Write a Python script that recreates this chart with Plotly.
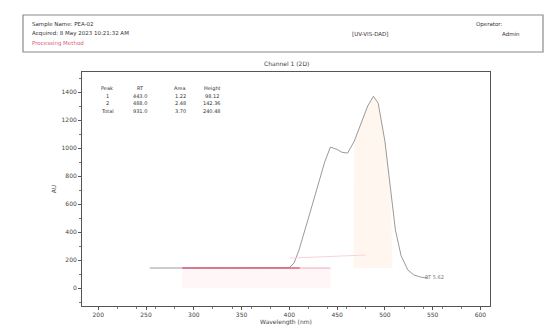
import plotly.graph_objects as go

# ---- data ----
wavelength = [254, 300, 350, 400, 405, 410, 420, 430, 437, 443, 450, 455, 461, 468, 475, 482, 488, 493, 500, 506, 511, 517, 524, 530, 537, 545]
signal = [143, 143, 142, 145, 180, 270, 500, 730, 900, 1007, 990, 970, 964, 1050, 1180, 1300, 1370, 1320, 1050, 679, 414, 230, 129, 95, 79, 70]

baseline_x = [288, 411]
baseline_y = [143, 143]
baseline2_x = [411, 443]
baseline2_y = [143, 143]
peak_start, peak_end = 467, 508
baseline_level = 143

x_ticks = [200, 250, 300, 350, 400, 450, 500, 550, 600]
y_ticks = [0, 200, 400, 600, 800, 1000, 1200, 1400]

table_header = ["Peak", "RT", "Area", "Height"]
table_rows = [["1", "443.0", "1.22", "98.12"],
              ["2", "488.0", "2.48", "142.36"],
              ["Total", "931.0", "3.70", "240.48"]]

W, H = 553, 334
ML, MR, MT, MB = 82, 63, 72, 28

fig = go.Figure()

# light pink fill under the baseline region
fig.add_trace(go.Scatter(x=[baseline_x[0], baseline2_x[1], baseline2_x[1], baseline_x[0]],
                         y=[baseline_level, baseline_level, 0, 0],
                         fill="toself", fillcolor="rgba(255,228,236,0.35)",
                         line=dict(width=0), mode="lines", hoverinfo="skip"))

# orange shaded peak area
px = [x for x in wavelength if peak_start <= x <= peak_end]
py = [y for x, y in zip(wavelength, signal) if peak_start <= x <= peak_end]
fig.add_trace(go.Scatter(x=[peak_start] + px + [peak_end, peak_end, peak_start],
                         y=[baseline_level] + py + [baseline_level, baseline_level, baseline_level],
                         fill="toself", fillcolor="rgba(255,222,190,0.25)",
                         line=dict(width=0), mode="lines", hoverinfo="skip"))

# main curve
fig.add_trace(go.Scatter(x=wavelength, y=signal, mode="lines",
                         line=dict(color="#9a9a9a", width=1)))

# baselines
fig.add_trace(go.Scatter(x=baseline_x, y=baseline_y, mode="lines",
                         line=dict(color="#d9607e", width=1.5)))
fig.add_trace(go.Scatter(x=baseline2_x, y=baseline2_y, mode="lines",
                         line=dict(color="#f0a8b8", width=1)))
fig.add_trace(go.Scatter(x=[400, 480], y=[214, 236], mode="lines",
                         line=dict(color="#f7d4dc", width=1)))

axis_common = dict(showline=True, linecolor="#555", linewidth=1, mirror=True,
                   ticks="outside", ticklen=3, tickcolor="#555", showgrid=False,
                   zeroline=False, tickfont=dict(size=6, color="#444", family="DejaVu Sans"),
                   minor=dict(ticks="outside", ticklen=2, tickcolor="#777"))

fig.update_xaxes(range=[183, 610], tickvals=x_ticks,
                 title=dict(text="Wavelength (nm)", font=dict(size=6, color="#444", family="DejaVu Sans"), standoff=2),
                 **axis_common)
fig.update_yaxes(range=[-128, 1543], tickvals=y_ticks,
                 title=dict(text="AU", font=dict(size=6, color="#444", family="DejaVu Sans"), standoff=4),
                 **axis_common)


def pxx(p):
    return (p - ML) / (W - ML - MR)


def pxy(p):
    return (H - MB - p) / (H - MT - MB)


fig.update_layout(
    template="none",
    width=W, height=H,
    margin=dict(l=ML, r=MR, t=MT, b=MB),
    paper_bgcolor="white", plot_bgcolor="white",
    showlegend=False,
)

fig.add_annotation(x=0.5, y=1.0, xref="paper", yref="paper", yanchor="bottom", text="Channel 1 (2D)",
                   showarrow=False, font=dict(size=6, color="#444", family="DejaVu Sans"), yshift=3)
fig.add_annotation(x=540, y=79, xref="x", yref="y", text="RT 5.62", showarrow=False, xanchor="left",
                   font=dict(size=5, color="#777", family="DejaVu Sans"))

# peak table
col_px = [107, 140, 180, 212]
row_px = [88, 96, 103, 111]
rows = [table_header] + table_rows
for r, row in enumerate(rows):
    for c, val in enumerate(row):
        fig.add_annotation(x=pxx(col_px[c]), y=pxy(row_px[r]), xref="paper", yref="paper", text=val,
                           showarrow=False, xanchor="center", yanchor="middle",
                           font=dict(size=5, color="#333", family="DejaVu Sans"))

# header box texts (pixel positions)
hdr = [
    (30, 24, "Sample Name: PEA-02", "#333", "left"),
    (30, 34, "Acquired: 8 May 2023 10:21:32 AM", "#333", "left"),
    (30, 43, "Processing Method", "#d9607e", "left"),
    (350, 34, "[UV-VIS-DAD]", "#333", "left"),
    (505, 24, "Operator:", "#333", "right"),
    (522, 34, "Admin", "#333", "right"),
]
for x, y, t, col, anc in hdr:
    fig.add_annotation(x=pxx(x), y=pxy(y), xref="paper", yref="paper", text=t,
                       showarrow=False, xanchor=anc, yanchor="middle",
                       font=dict(size=5.5, color=col, family="DejaVu Sans"))

fig.add_shape(type="rect", xref="paper", yref="paper",
              x0=pxx(23), x1=pxx(543), y0=pxy(52), y1=pxy(15),
              line=dict(color="#8a8a8a", width=1.2))

fig.write_html("out.html", config={"displayModeBar": False},
               post_script="document.body.style.margin='0px';document.body.style.overflow='hidden';")
